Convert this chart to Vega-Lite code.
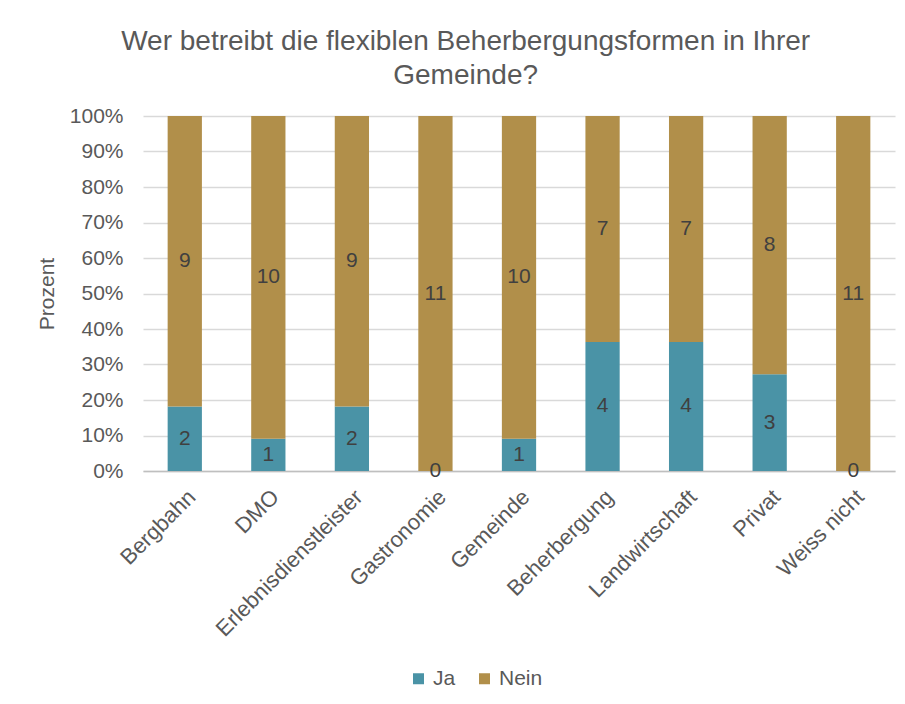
{
  "$schema": "https://vega.github.io/schema/vega-lite/v6.json",
  "width": 752,
  "height": 355,
  "autosize": {"type": "none"},
  "padding": {"left": 143, "top": 116, "right": 10, "bottom": 233},
  "background": "white",
  "config": {
    "font": "Liberation Sans",
    "view": {"stroke": null},
    "axis": {"labelColor": "#595959", "titleColor": "#595959", "labelFontSize": 21, "titleFontSize": 21, "titleFontWeight": "normal"}
  },
  "title": {
    "text": ["Wer betreibt die flexiblen Beherbergungsformen in Ihrer", "Gemeinde?"],
    "fontSize": 28,
    "fontWeight": "normal",
    "color": "#595959",
    "font": "Liberation Sans",
    "anchor": "middle",
    "frame": "bounds",
    "lineHeight": 34,
    "offset": 15
  },
  "data": {
    "values": [
      {"kategorie": "Bergbahn", "antwort": "Ja", "anzahl": 2},
      {"kategorie": "Bergbahn", "antwort": "Nein", "anzahl": 9},
      {"kategorie": "DMO", "antwort": "Ja", "anzahl": 1},
      {"kategorie": "DMO", "antwort": "Nein", "anzahl": 10},
      {"kategorie": "Erlebnisdienstleister", "antwort": "Ja", "anzahl": 2},
      {"kategorie": "Erlebnisdienstleister", "antwort": "Nein", "anzahl": 9},
      {"kategorie": "Gastronomie", "antwort": "Ja", "anzahl": 0},
      {"kategorie": "Gastronomie", "antwort": "Nein", "anzahl": 11},
      {"kategorie": "Gemeinde", "antwort": "Ja", "anzahl": 1},
      {"kategorie": "Gemeinde", "antwort": "Nein", "anzahl": 10},
      {"kategorie": "Beherbergung", "antwort": "Ja", "anzahl": 4},
      {"kategorie": "Beherbergung", "antwort": "Nein", "anzahl": 7},
      {"kategorie": "Landwirtschaft", "antwort": "Ja", "anzahl": 4},
      {"kategorie": "Landwirtschaft", "antwort": "Nein", "anzahl": 7},
      {"kategorie": "Privat", "antwort": "Ja", "anzahl": 3},
      {"kategorie": "Privat", "antwort": "Nein", "anzahl": 8},
      {"kategorie": "Weiss nicht", "antwort": "Ja", "anzahl": 0},
      {"kategorie": "Weiss nicht", "antwort": "Nein", "anzahl": 11}
    ]
  },
  "transform": [
    {"stack": "anzahl", "groupby": ["kategorie"], "offset": "normalize", "sort": [{"field": "antwort", "order": "ascending"}], "as": ["lo", "hi"]},
    {"calculate": "(datum.lo + datum.hi) / 2", "as": "mitte"}
  ],
  "encoding": {
    "x": {
      "field": "kategorie",
      "type": "nominal",
      "sort": null,
      "title": null,
      "scale": {"paddingInner": 0.59, "paddingOuter": 0.295},
      "axis": {"labelAngle": -45, "labelPadding": 15, "labelFontSize": 22, "labelLimit": 400, "labelOverlap": false, "ticks": false, "domainColor": "#BFBFBF", "domainWidth": 1.5}
    }
  },
  "layer": [
    {
      "mark": {"type": "bar"},
      "encoding": {
        "y": {
          "field": "lo",
          "type": "quantitative",
          "scale": {"domain": [0, 1], "nice": false},
          "title": "Prozent",
          "axis": {"format": "%", "values": [0, 0.1, 0.2, 0.3, 0.4, 0.5, 0.6, 0.7, 0.8, 0.9, 1], "labelOverlap": false, "ticks": false, "domain": false, "labelPadding": 20, "titlePadding": 12, "gridColor": "#D9D9D9", "gridWidth": 1.3}
        },
        "y2": {"field": "hi"},
        "color": {
          "field": "antwort",
          "type": "nominal",
          "scale": {"domain": ["Ja", "Nein"], "range": ["#4A93A6", "#B18F4A"]},
          "legend": {"title": null, "orient": "none", "legendX": 265, "legendY": 552, "direction": "horizontal", "symbolType": "square", "symbolSize": 121, "symbolStrokeWidth": 0, "labelFontSize": 21, "labelColor": "#595959", "columnPadding": 18, "labelFont": "Liberation Sans"}
        }
      }
    },
    {
      "mark": {"type": "text", "fontSize": 21, "color": "#404040", "baseline": "middle", "align": "center"},
      "encoding": {
        "y": {
          "field": "mitte",
          "type": "quantitative",
          "scale": {"domain": [0, 1], "nice": false},
          "title": "Prozent",
          "axis": {"format": "%", "values": [0, 0.1, 0.2, 0.3, 0.4, 0.5, 0.6, 0.7, 0.8, 0.9, 1], "labelOverlap": false, "ticks": false, "domain": false, "labelPadding": 20, "titlePadding": 12, "gridColor": "#D9D9D9", "gridWidth": 1.3}
        },
        "text": {"field": "anzahl", "type": "quantitative"}
      }
    }
  ]
}
